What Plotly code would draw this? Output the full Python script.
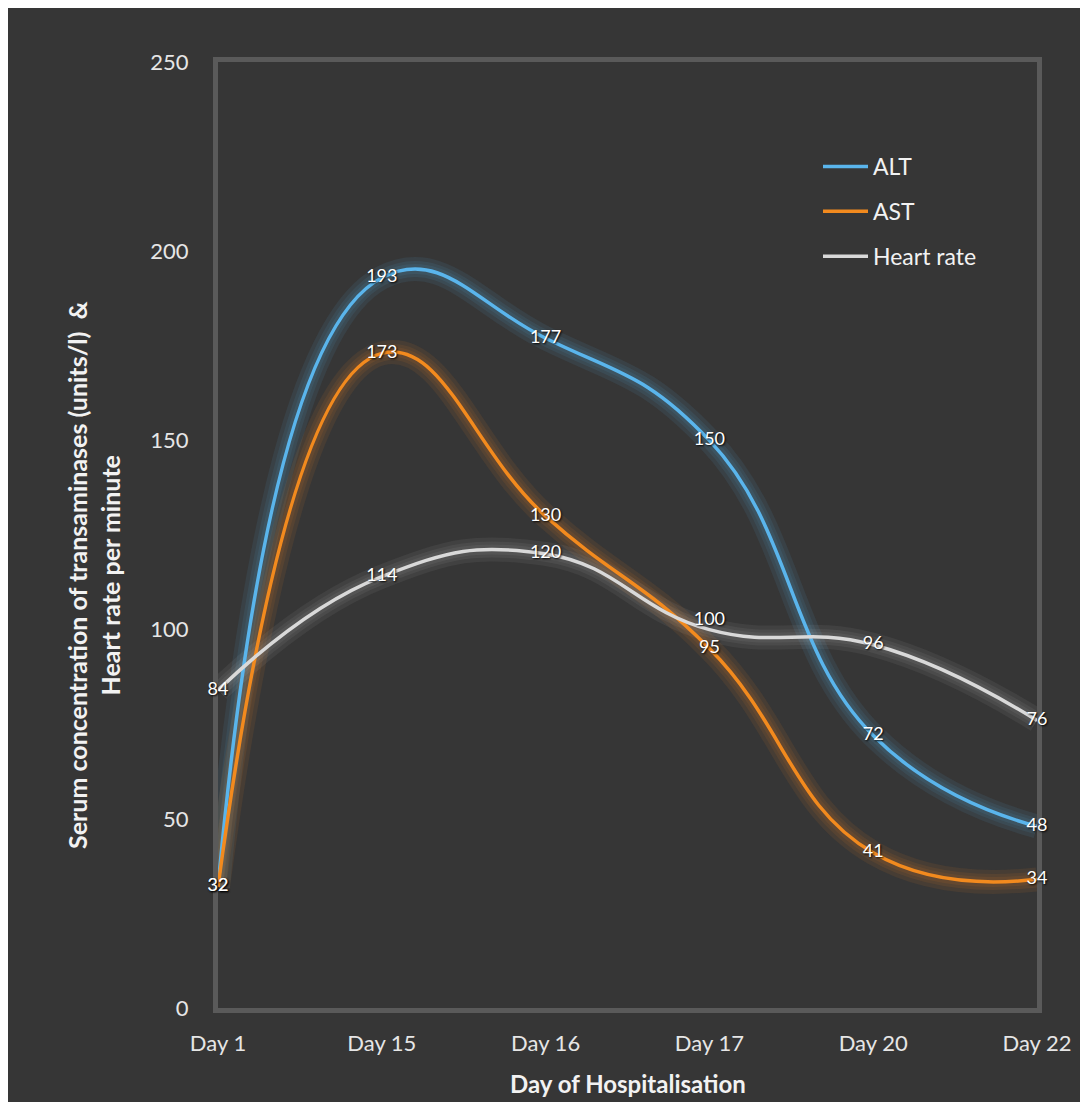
import plotly.graph_objects as go

days = ["Day 1", "Day 15", "Day 16", "Day 17", "Day 20", "Day 22"]
alt = [32, 193, 177, 150, 72, 48]
ast = [32, 173, 130, 95, 41, 34]
heart_rate = [84, 114, 120, 100, 96, 76]

y_ticks = [0, 50, 100, 150, 200, 250]

series = [
    ("ALT", alt, "#5AB5EC", "rgba(90,181,236,0.09)"),
    ("AST", ast, "#F28A1E", "rgba(242,138,30,0.09)"),
    ("Heart rate", heart_rate, "#D9D9D9", "rgba(217,217,217,0.07)"),
]

# page body has an 8px margin; figure sized to fill the rest of the window
OFF = 8
W, H = 1080, 1094
L, R, T, B = 210, 51, 54, 94
pw, ph = W - L - R, H - T - B

def px(x):  # x in window pixels -> paper
    return (x - OFF - L) / pw

def py(y):  # y in window pixels -> paper
    return (H - B - (y - OFF)) / ph

FONT = "Lato, Open Sans, sans-serif"
SMOOTH = 1.3

fig = go.Figure()
xi = list(range(len(days)))

# glow layers
for name, vals, col, glow in series:
    for w in (24, 16, 10):
        fig.add_trace(go.Scatter(
            x=xi, y=vals, mode="lines", showlegend=False, hoverinfo="skip",
            line=dict(color=glow, width=w, shape="spline", smoothing=SMOOTH),
        ))

# main lines
for name, vals, col, glow in series:
    fig.add_trace(go.Scatter(
        x=xi, y=vals, mode="lines", name=name, legendgroup=name,
        line=dict(color=col, width=3.5, shape="spline", smoothing=SMOOTH),
    ))

# data labels
label_pos = {
    "ALT": ["middle center"] * 6,
    "AST": ["middle center"] * 6,
    "Heart rate": ["middle center", "middle center", "middle center",
                   "top center", "middle center", "middle center"],
}
for name, vals, col, glow in series:
    fig.add_trace(go.Scatter(
        x=xi, y=vals, mode="text", showlegend=False, hoverinfo="skip",
        text=[str(v) for v in vals], textposition=label_pos[name],
        cliponaxis=False,
        textfont=dict(family=FONT, size=18, color="#FFFFFF",
                      shadow="1px 1px 2px #000000"),
    ))

fig.update_layout(
    width=W, height=H,
    margin=dict(l=L, r=R, t=T, b=B),
    paper_bgcolor="#363636",
    plot_bgcolor="#363636",
    font=dict(family=FONT, color="#E6E6E6"),
    legend=dict(
        x=px(818), y=py(145), xanchor="left", yanchor="top",
        bgcolor="rgba(0,0,0,0)", font=dict(size=23, color="#F2F2F2"),
        tracegroupgap=12, traceorder="grouped", itemwidth=45,
    ),
    annotations=[
        dict(text="<b>Serum concentration of transaminases (units/l)  &<br>Heart rate per minute</b>",
             xref="paper", yref="paper", x=px(93), y=py(575), textangle=-90,
             showarrow=False, font=dict(size=25, color="#F2F2F2"), align="center",
             xanchor="center", yanchor="middle"),
        dict(text="<b>Day of Hospitalisation</b>", xref="paper", yref="paper",
             x=0.5, y=py(1083), showarrow=False, font=dict(size=24, color="#F2F2F2"),
             xanchor="center", yanchor="middle"),
    ],
)

fig.update_xaxes(
    range=[0, len(days) - 1], tickvals=xi, ticktext=days,
    showgrid=False, zeroline=False, layer="below traces",
    showline=True, mirror=True, linecolor="#5A5A5A", linewidth=5,
    ticks="outside", ticklen=12, tickcolor="rgba(0,0,0,0)",
    tickfont=dict(size=22, color="#E6E6E6"),
)
fig.update_yaxes(
    range=[0, 250], tickvals=y_ticks,
    showgrid=False, zeroline=False, layer="below traces",
    showline=True, mirror=True, linecolor="#5A5A5A", linewidth=5,
    ticks="outside", ticklen=20, tickcolor="rgba(0,0,0,0)",
    tickfont=dict(size=22, color="#E6E6E6"),
)

fig.write_html("out.html")
